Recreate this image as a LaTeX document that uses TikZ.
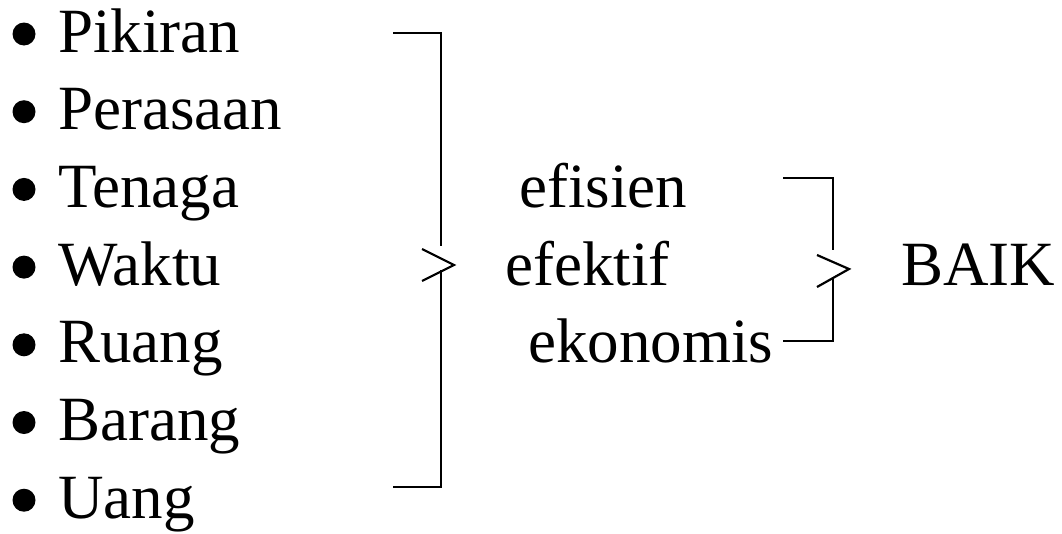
\documentclass[tikz,border=0pt]{standalone}
\usepackage{fontspec}
\setmainfont{Liberation Serif}
\begin{document}
\begin{tikzpicture}[x=1pt,y=-1pt,
  item/.style={anchor=base west,inner sep=0pt,font=\fontsize{63}{75}\selectfont},
  word/.style={anchor=base west,inner sep=0pt,font=\fontsize{63}{75}\selectfont},
  dot/.style={circle,fill=black,inner sep=0pt,minimum size=23pt},
  brk/.style={line width=2.2pt,line join=miter}]
\useasboundingbox (0,0) rectangle (1062,533);
% list
\foreach \t [count=\i] in {Pikiran,Perasaan,Tenaga,Waktu,Ruang,Barang,Uang}{
  \pgfmathsetmacro{\yy}{52+(\i-1)*77.7}
  \node[dot] (b\i) at (24,\yy-18) {};
  \node[item] (t\i) at (58,\yy) {\t};
}
% middle words
\node[word] (efisien) at (519,207) {efisien};
\node[word] (efektif) at (505,285.5) {efektif};
\node[word] (ekonomis) at (528,362) {ekonomis};
\node[word] (baik) at (901,285) {BAIK};
% big bracket
\coordinate (A1) at (393,33);
\coordinate (A2) at (441,33);
\coordinate (A3) at (441,246);
\coordinate (A4) at (441,270);
\coordinate (A5) at (441,487);
\coordinate (A6) at (393,487);
\coordinate (C1) at (422,249);
\coordinate (C2) at (454,265);
\coordinate (C3) at (422,281);
\draw[brk] (A1) -- (A2) -- (A3);
\draw[brk] (A4) -- (A5) -- (A6);
\draw[brk] (C1) -- (C2) -- (C3);
% small bracket
\coordinate (B1) at (783,178);
\coordinate (B2) at (833,178);
\coordinate (B3) at (833,250);
\coordinate (B4) at (833,278);
\coordinate (B5) at (833,341);
\coordinate (B6) at (783,341);
\coordinate (D1) at (817,255);
\coordinate (D2) at (849,269);
\coordinate (D3) at (817,287);
\draw[brk] (B1) -- (B2) -- (B3);
\draw[brk] (B4) -- (B5) -- (B6);
\draw[brk] (D1) -- (D2) -- (D3);
\end{tikzpicture}
\end{document}
